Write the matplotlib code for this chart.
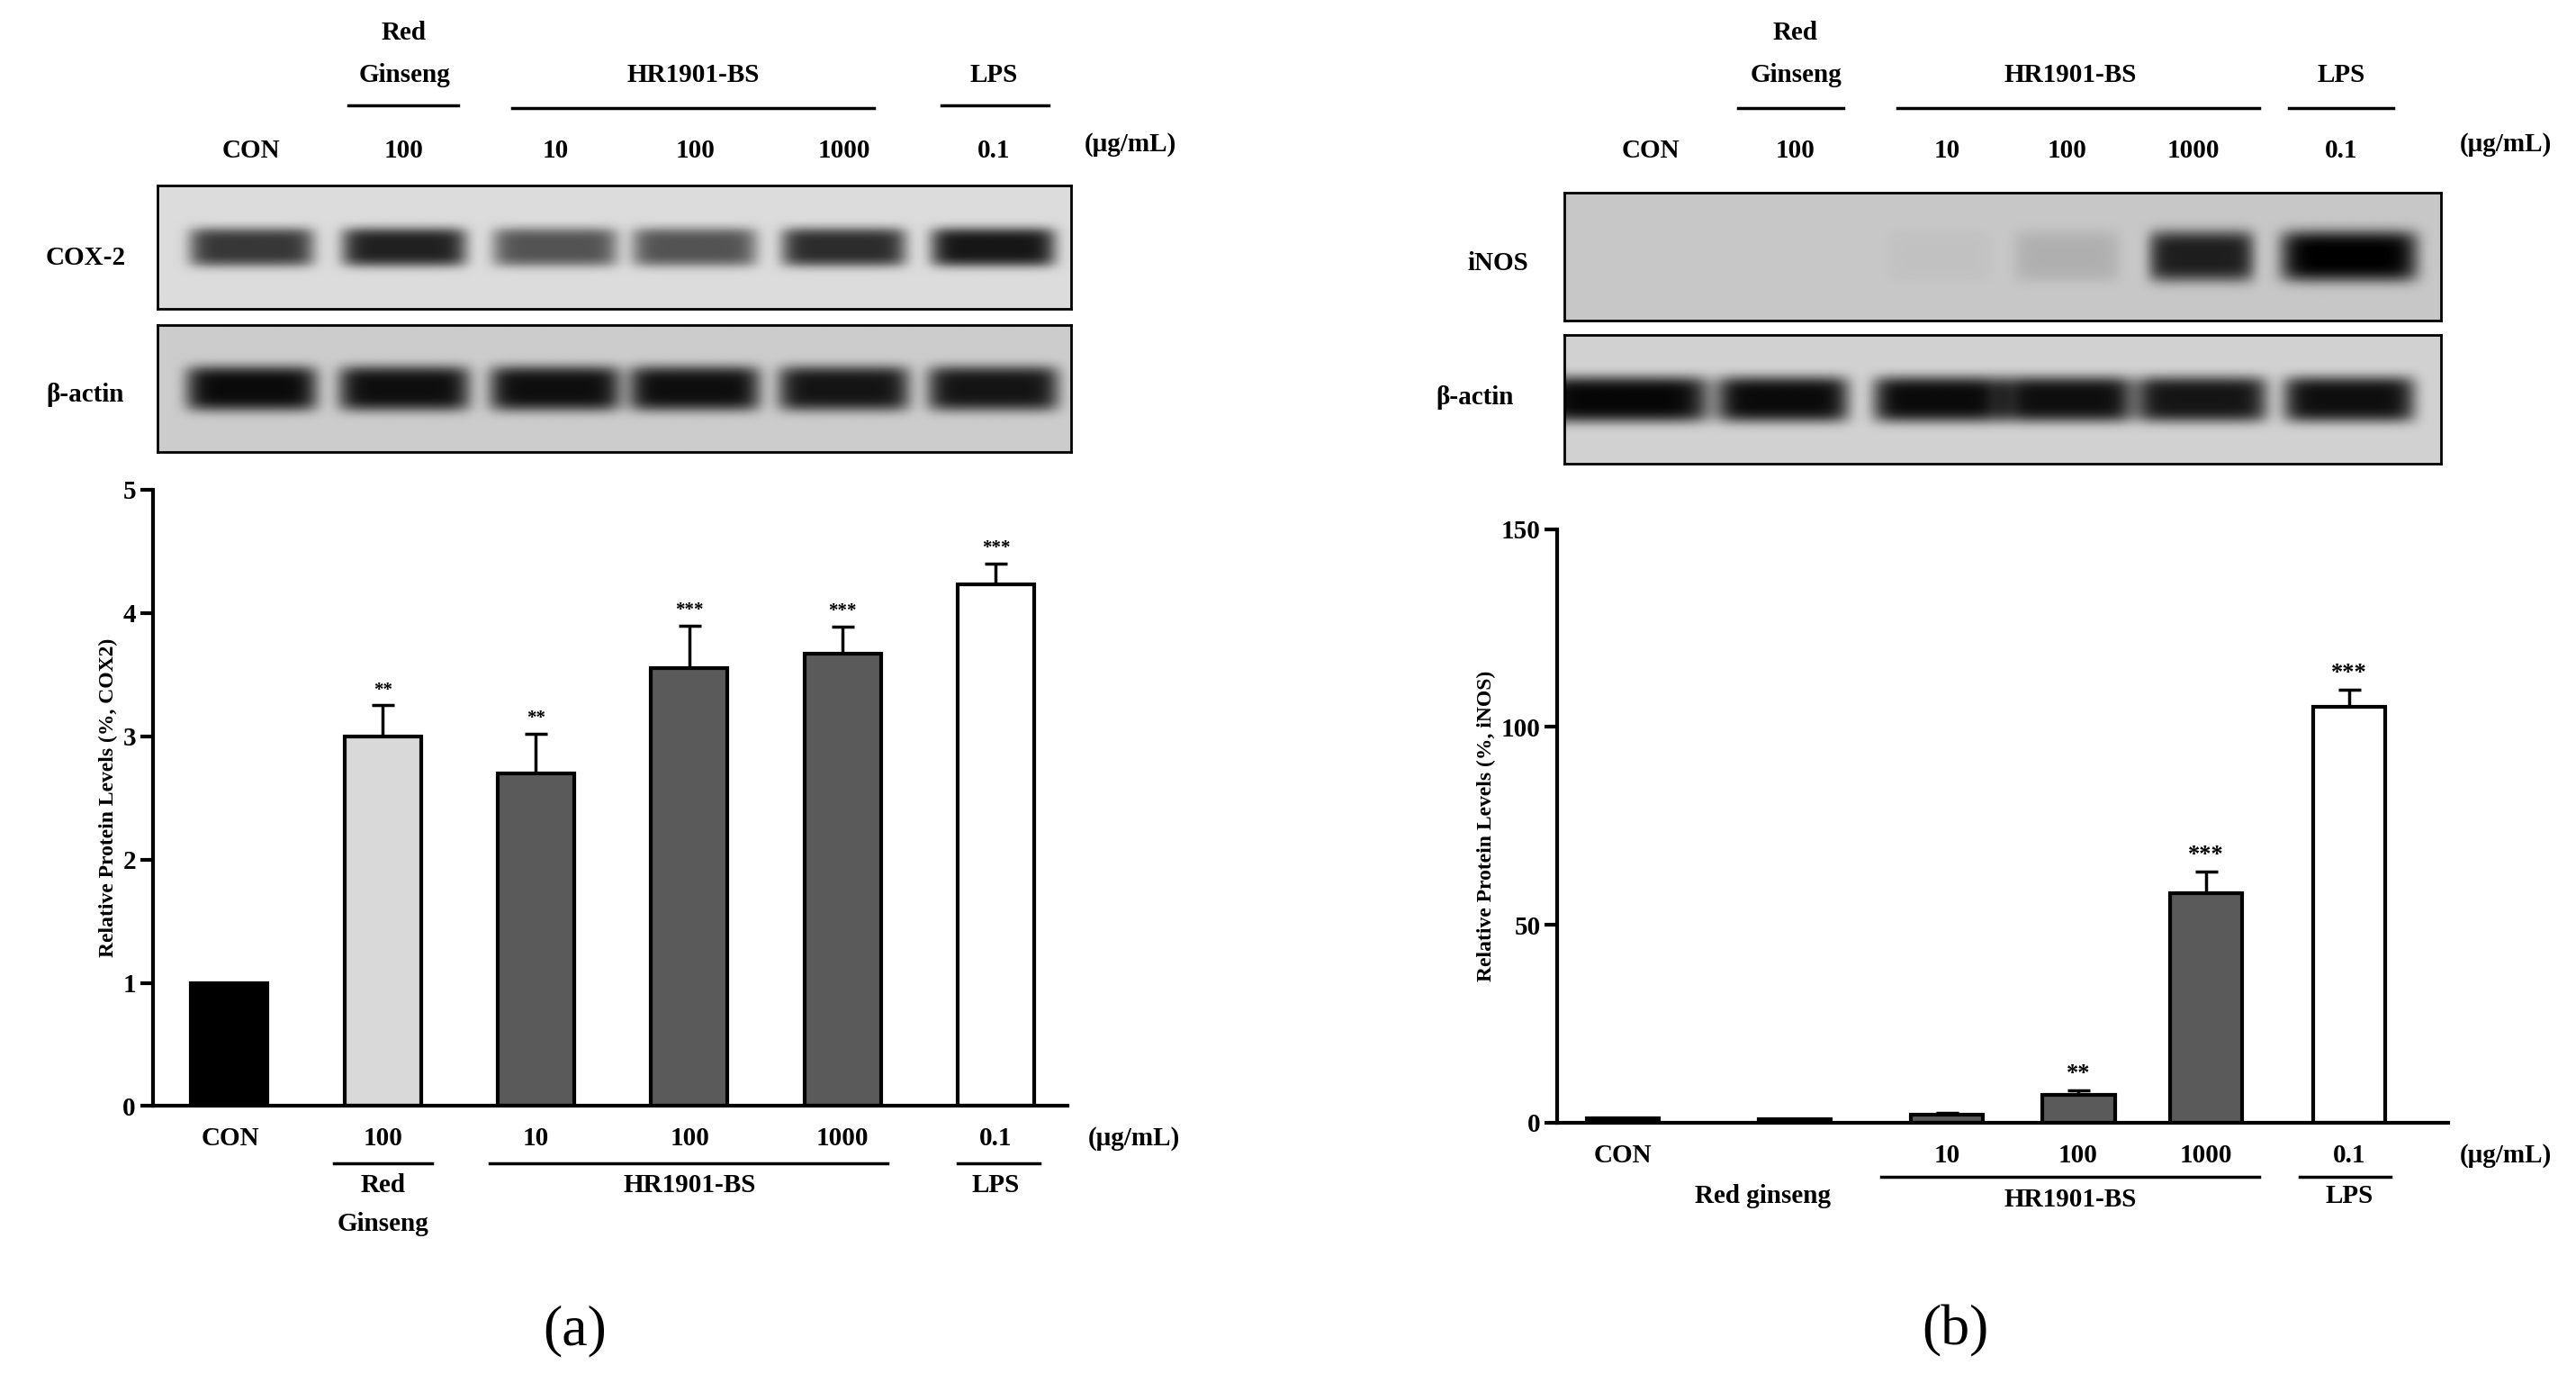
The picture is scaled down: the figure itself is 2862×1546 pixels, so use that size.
import numpy as np
import matplotlib.pyplot as plt

plt.rcParams['font.family'] = ['Liberation Serif', 'DejaVu Serif']
plt.rcParams['font.weight'] = 'bold'

# panel a data
a_labels = ['CON', '100', '10', '100', '1000', '0.1']
a_values = [1.0, 3.0, 2.7, 3.55, 3.67, 4.23]
a_errors = [0.0, 0.25, 0.32, 0.35, 0.22, 0.17]
a_stars = ['', '**', '**', '***', '***', '***']
a_colors = ['#000000', '#d9d9d9', '#5a5a5a', '#5a5a5a', '#5a5a5a', '#ffffff']
a_cox2 = [0.75, 0.85, 0.62, 0.62, 0.8, 0.9]
a_actin = [0.95, 0.93, 0.93, 0.93, 0.9, 0.9]

# panel b data
b_labels = ['CON', '', '10', '100', '1000', '0.1']
b_values = [1.0, 0.8, 2.0, 7.0, 58.0, 105.0]
b_errors = [0.0, 0.0, 0.5, 1.2, 5.5, 4.5]
b_stars = ['', '', '', '**', '***', '***']
b_colors = ['#000000', '#d9d9d9', '#5a5a5a', '#5a5a5a', '#5a5a5a', '#ffffff']
b_inos = [0.0, 0.0, 0.03, 0.12, 0.85, 1.0]
b_actin = [0.97, 0.95, 0.95, 0.93, 0.9, 0.93]

W, H = 1568, 847
fig = plt.figure(figsize=(28.62, 15.46), dpi=100)


def X(x):
    return x / W


def Y(y):
    return 1 - y / H


def txt(x, y, s, size=21, **kw):
    fig.text(X(x), Y(y), s, ha=kw.pop('ha', 'center'), va=kw.pop('va', 'center'),
             fontsize=size, fontweight='bold', **kw)


def hline(x0, x1, y):
    fig.add_artist(plt.Line2D([X(x0), X(x1)], [Y(y), Y(y)], color='black', lw=2.5))


def blot(x0, x1, y0, y1, centers, intens, bg, width, height):
    ax = fig.add_axes([X(x0), Y(y1), X(x1) - X(x0), Y(y0) - Y(y1)])
    xs = np.linspace(x0, x1, 600)
    ys = np.linspace(-1, 1, 120)
    img = np.full((120, 600), bg)
    for c, v in zip(centers, intens):
        w = width * (1.3 if v > 0.95 and width > 30 else 1.0)
        prof = np.exp(-((xs - c) / w) ** 8)
        vert = np.exp(-(ys / height) ** 4)
        img -= v * bg * np.outer(vert, prof)
    ax.imshow(np.clip(img, 0, 1), cmap='gray', vmin=0, vmax=1, aspect='auto')
    ax.set_xticks([])
    ax.set_yticks([])
    for s in ax.spines.values():
        s.set_linewidth(2)


def bars(rect, pos, vals, errs, stars, colors, ylim, yticks, xlim, ylabel, lsize):
    ax = fig.add_axes(rect)
    ax.bar(pos, vals, width=0.5, color=colors, edgecolor='black', linewidth=3, zorder=2)
    for p, v, e, s in zip(pos, vals, errs, stars):
        if e > 0:
            ax.errorbar(p, v, yerr=[[0], [e]], color='black', capsize=9, capthick=2.5,
                        elinewidth=2.5, zorder=1)
        if s:
            ax.text(p, v + e + ylim * 0.01, s, ha='center', va='bottom',
                    fontsize=lsize, fontweight='bold')
    ax.set_ylim(0, ylim)
    ax.set_xlim(*xlim)
    ax.set_yticks(yticks)
    ax.set_xticks([])
    ax.spines['top'].set_visible(False)
    ax.spines['right'].set_visible(False)
    for s in ['left', 'bottom']:
        ax.spines[s].set_linewidth(3)
    ax.tick_params(axis='y', width=3, length=10, labelsize=21)
    ax.set_ylabel(ylabel, fontsize=17, fontweight='bold')
    return ax


# ---------------- panel a ----------------
a_lane = [153, 246, 338, 423, 514, 605]
txt(246, 20, 'Red')
txt(246, 46, 'Ginseng')
hline(212, 279, 64)
txt(422, 46, 'HR1901-BS')
hline(312, 532, 66)
txt(605, 46, 'LPS')
hline(573, 638, 64)
for x, s in zip(a_lane, a_labels):
    txt(x, 92, s)
txt(688, 88, '(μg/mL)')
blot(96, 652, 113, 188, a_lane, a_cox2, 0.86, 38, 0.32)
blot(96, 652, 198, 275, a_lane, a_actin, 0.8, 40, 0.36)
txt(52, 157, 'COX-2')
txt(52, 240, 'β-actin')

a_pos = np.arange(6)
bars([X(93), Y(673), X(650) - X(93), Y(298) - Y(673)], a_pos, a_values, a_errors,
     a_stars, a_colors, 5, [0, 1, 2, 3, 4, 5], (-0.5, 5.47),
     'Relative Protein Levels (%, COX2)', 15)
for x, s in zip([140, 233, 326, 420, 513, 606], a_labels):
    txt(x, 693, s)
txt(690, 693, '(μg/mL)')
hline(203, 263, 708)
txt(233, 721, 'Red')
txt(233, 745, 'Ginseng')
hline(298, 540, 708)
txt(420, 721, 'HR1901-BS')
hline(583, 633, 708)
txt(606, 721, 'LPS')
txt(350, 810, '(a)', size=46, fontweight=None) if False else fig.text(X(350), Y(810), '(a)', ha='center', va='center', fontsize=46, fontweight='normal')

# ---------------- panel b ----------------
b_lane = [1005, 1093, 1185, 1258, 1335, 1425]
txt(1093, 20, 'Red')
txt(1093, 46, 'Ginseng')
hline(1058, 1122, 66)
txt(1260, 46, 'HR1901-BS')
hline(1155, 1375, 66)
txt(1425, 46, 'LPS')
hline(1393, 1457, 66)
for x, s in zip(b_lane, ['CON', '100', '10', '100', '1000', '0.1']):
    txt(x, 92, s)
txt(1525, 88, '(μg/mL)')
blot(952, 1486, 117, 195, [988, 1085, 1180, 1258, 1340, 1430], b_inos, 0.78, 32, 0.4)
blot(952, 1486, 204, 282, [988, 1085, 1180, 1258, 1340, 1430], b_actin, 0.82, 40, 0.36)
txt(912, 160, 'iNOS')
txt(898, 242, 'β-actin')

b_pos = [0, 1.19, 2.24, 3.15, 4.03, 5.02]
bars([X(948), Y(683), X(1490) - X(948), Y(322) - Y(683)], b_pos, b_values, b_errors,
     b_stars, b_colors, 150, [0, 50, 100, 150], (-0.45, 5.7),
     'Relative Protein Levels (%, iNOS)', 19)
for x, s in zip([988, 1093, 1185, 1265, 1343, 1430], b_labels):
    if s:
        txt(x, 703, s)
txt(1525, 703, '(μg/mL)')
txt(1073, 728, 'Red ginseng')
hline(1145, 1375, 716)
txt(1260, 730, 'HR1901-BS')
hline(1400, 1455, 716)
txt(1430, 728, 'LPS')
fig.text(X(1190), Y(810), '(b)', ha='center', va='center', fontsize=46, fontweight='normal')

fig.savefig('out.png', dpi=100)
